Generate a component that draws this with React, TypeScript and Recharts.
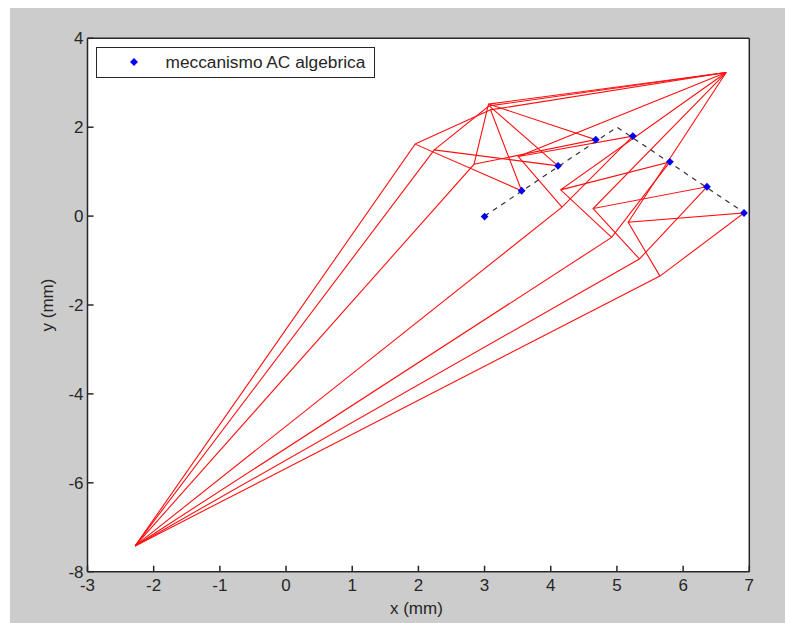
import { ScatterChart, Scatter, XAxis, YAxis, CartesianGrid, Label } from "recharts";

type Pt = { x: number; y: number };

const xTicks = [-3, -2, -1, 0, 1, 2, 3, 4, 5, 6, 7];
const yTicks = [-8, -6, -4, -2, 0, 2, 4];

// fixed hinges
const hingeLeft: Pt = { x: -2.28, y: -7.42 };
const hingeRight: Pt = { x: 6.65, y: 3.23 };

// coupler point positions along the path (first one has no linkage drawn)
const couplerPoints: Pt[] = [
  { x: 3.0, y: -0.01 },
  { x: 3.56, y: 0.57 },
  { x: 4.11, y: 1.13 },
  { x: 4.68, y: 1.72 },
  { x: 5.24, y: 1.8 },
  { x: 5.8, y: 1.22 },
  { x: 6.36, y: 0.66 },
  { x: 6.92, y: 0.07 },
];

const jointB: Pt[] = [
  { x: 1.95, y: 1.62 },
  { x: 2.24, y: 1.49 },
  { x: 2.84, y: 1.165 },
  { x: 4.17, y: 0.2 },
  { x: 4.92, y: -0.48 },
  { x: 5.34, y: -0.965 },
  { x: 5.65, y: -1.35 },
];

const jointC: Pt[] = [
  { x: 3.09, y: 2.39 },
  { x: 3.07, y: 2.48 },
  { x: 3.06, y: 2.52 },
  { x: 3.51, y: 1.34 },
  { x: 4.15, y: 0.59 },
  { x: 4.64, y: 0.17 },
  { x: 5.17, y: -0.14 },
];

const targetPath: Pt[] = [
  { x: 3, y: 0 },
  { x: 5, y: 2 },
  { x: 7, y: 0 },
];

const linkages = jointB.map((b, i) => {
  const c = jointC[i];
  const a = couplerPoints[i + 1];
  return [hingeLeft, b, a, c, b, c, hingeRight];
});

const axisColor = "#262626";
const font = "'Liberation Sans', Arial, sans-serif";
const tickStyle = { fontSize: 17, fill: axisColor, fontFamily: font };

const Dot = (props: any) => {
  const { cx, cy } = props;
  return (
    <polygon
      points={`${cx},${cy - 3.9} ${cx + 3.9},${cy} ${cx},${cy + 3.9} ${cx - 3.9},${cy}`}
      fill="#0000ee"
    />
  );
};

const NoDot = () => <g />;

export default function App() {
  return (
    <div style={{ position: "absolute", left: 0, top: 0, width: 785, height: 623, overflow: "hidden" }}>
      <div style={{ position: "absolute", left: 10, top: 8, right: 0, bottom: 0, background: "#cccccc" }} />
      <div style={{ position: "absolute", left: 0, top: 0 }}>
        <ScatterChart width={785} height={623} margin={{ top: 0, right: 0, bottom: 0, left: 0 }}>
          <CartesianGrid horizontal={false} vertical={false} fill="#ffffff" />
          <XAxis
            type="number"
            dataKey="x"
            domain={[-3, 7]}
            ticks={xTicks}
            height={51.3}
            allowDataOverflow
            interval={0}
            tickSize={-6}
            tickMargin={13}
            tick={tickStyle}
            stroke={axisColor}
            strokeWidth={1.5}
          >
            <Label
              value="x (mm)"
              position="insideBottom"
              offset={9}
              dx={-2}
              style={{ fontSize: 17, fill: axisColor, fontFamily: font }}
            />
          </XAxis>
          <YAxis
            type="number"
            dataKey="y"
            domain={[-8, 4]}
            ticks={yTicks}
            width={87.5}
            allowDataOverflow
            interval={0}
            tickSize={-6}
            tickMargin={10}
            tick={tickStyle}
            stroke={axisColor}
            strokeWidth={1.5}
          >
            <Label
              value="y (mm)"
              angle={-90}
              position="insideLeft"
              offset={47}
              style={{ fontSize: 17, fill: axisColor, fontFamily: font, textAnchor: "middle" }}
            />
          </YAxis>
          <XAxis
            xAxisId="top"
            orientation="top"
            type="number"
            domain={[-3, 7]}
            ticks={xTicks}
            height={38.3}
            interval={0}
            tickSize={-6}
            tickFormatter={() => ""}
            stroke={axisColor}
            strokeWidth={1.5}
          />
          <YAxis
            yAxisId="right"
            orientation="right"
            type="number"
            domain={[-8, 4]}
            ticks={yTicks}
            width={35.7}
            interval={0}
            tickSize={-6}
            tickFormatter={() => ""}
            stroke={axisColor}
            strokeWidth={1.5}
          />
          {linkages.map((pts, i) => (
            <Scatter
              key={i}
              data={pts}
              line={{ stroke: "#ff1010", strokeWidth: 1.1 }}
              lineJointType="linear"
              shape={NoDot}
              isAnimationActive={false}
            />
          ))}
          <Scatter
            data={targetPath}
            line={{ stroke: "#333333", strokeWidth: 1.2, strokeDasharray: "5 5" }}
            lineJointType="linear"
            shape={NoDot}
            isAnimationActive={false}
          />
          <Scatter data={couplerPoints} shape={Dot} isAnimationActive={false} />
        </ScatterChart>
      </div>
      <div
        style={{
          position: "absolute",
          left: 96,
          top: 47,
          width: 279,
          height: 31,
          boxSizing: "border-box",
          border: "1.5px solid #262626",
          background: "#ffffff",
          fontFamily: font,
          fontSize: 17.3,
          color: axisColor,
        }}
      >
        <svg width={12} height={12} style={{ position: "absolute", left: 31, top: 8 }}>
          <polygon points="6,2 10,6 6,10 2,6" fill="#0000ee" />
        </svg>
        <span style={{ position: "absolute", left: 68.5, top: 4, whiteSpace: "nowrap" }}>meccanismo AC algebrica</span>
      </div>
    </div>
  );
}
